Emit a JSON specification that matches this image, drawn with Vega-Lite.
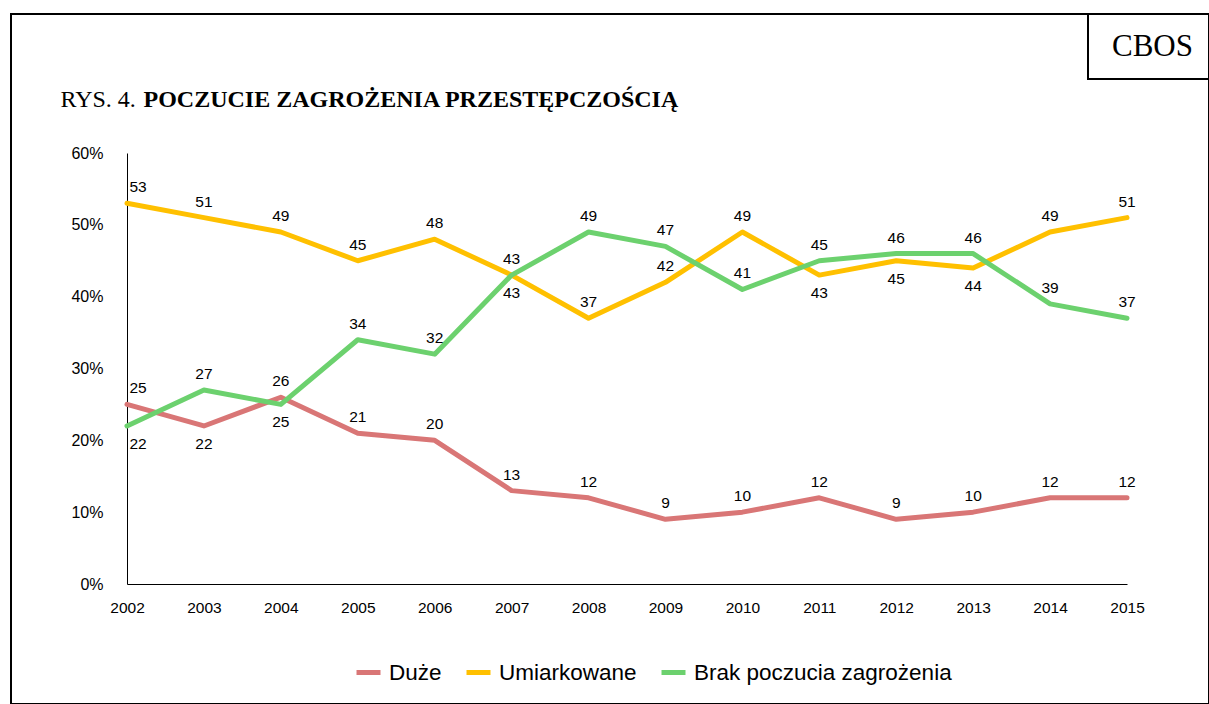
{
  "$schema": "https://vega.github.io/schema/vega-lite/v6.json",
  "autosize": "none",
  "width": 1198,
  "height": 690,
  "padding": {"left": 11, "top": 14, "right": 0, "bottom": 0},
  "background": "white",
  "config": {
    "view": {"stroke": "black", "strokeWidth": 2},
    "font": "Liberation Sans",
    "legend": {"strokeWidth": 2}
  },
  "datasets": {
    "main": [
      {"year": 2002, "series": "Duże", "value": 25},
      {"year": 2003, "series": "Duże", "value": 22},
      {"year": 2004, "series": "Duże", "value": 26},
      {"year": 2005, "series": "Duże", "value": 21},
      {"year": 2006, "series": "Duże", "value": 20},
      {"year": 2007, "series": "Duże", "value": 13},
      {"year": 2008, "series": "Duże", "value": 12},
      {"year": 2009, "series": "Duże", "value": 9},
      {"year": 2010, "series": "Duże", "value": 10},
      {"year": 2011, "series": "Duże", "value": 12},
      {"year": 2012, "series": "Duże", "value": 9},
      {"year": 2013, "series": "Duże", "value": 10},
      {"year": 2014, "series": "Duże", "value": 12},
      {"year": 2015, "series": "Duże", "value": 12},
      {"year": 2002, "series": "Umiarkowane", "value": 53},
      {"year": 2003, "series": "Umiarkowane", "value": 51},
      {"year": 2004, "series": "Umiarkowane", "value": 49},
      {"year": 2005, "series": "Umiarkowane", "value": 45},
      {"year": 2006, "series": "Umiarkowane", "value": 48},
      {"year": 2007, "series": "Umiarkowane", "value": 43},
      {"year": 2008, "series": "Umiarkowane", "value": 37},
      {"year": 2009, "series": "Umiarkowane", "value": 42},
      {"year": 2010, "series": "Umiarkowane", "value": 49},
      {"year": 2011, "series": "Umiarkowane", "value": 43},
      {"year": 2012, "series": "Umiarkowane", "value": 45},
      {"year": 2013, "series": "Umiarkowane", "value": 44},
      {"year": 2014, "series": "Umiarkowane", "value": 49},
      {"year": 2015, "series": "Umiarkowane", "value": 51},
      {"year": 2002, "series": "Brak poczucia zagrożenia", "value": 22},
      {"year": 2003, "series": "Brak poczucia zagrożenia", "value": 27},
      {"year": 2004, "series": "Brak poczucia zagrożenia", "value": 25},
      {"year": 2005, "series": "Brak poczucia zagrożenia", "value": 34},
      {"year": 2006, "series": "Brak poczucia zagrożenia", "value": 32},
      {"year": 2007, "series": "Brak poczucia zagrożenia", "value": 43},
      {"year": 2008, "series": "Brak poczucia zagrożenia", "value": 49},
      {"year": 2009, "series": "Brak poczucia zagrożenia", "value": 47},
      {"year": 2010, "series": "Brak poczucia zagrożenia", "value": 41},
      {"year": 2011, "series": "Brak poczucia zagrożenia", "value": 45},
      {"year": 2012, "series": "Brak poczucia zagrożenia", "value": 46},
      {"year": 2013, "series": "Brak poczucia zagrożenia", "value": 46},
      {"year": 2014, "series": "Brak poczucia zagrożenia", "value": 39},
      {"year": 2015, "series": "Brak poczucia zagrożenia", "value": 37}
    ],
    "brand": [{"brand": "CBOS"}]
  },
  "layer": [
    {
      "data": {"name": "main"},
      "mark": {"type": "line", "strokeWidth": 5, "strokeCap": "round", "strokeJoin": "round"},
      "encoding": {
        "x": {
          "field": "year", "type": "quantitative",
          "scale": {"domain": [2002, 2015], "range": [116, 1116], "nice": false, "zero": false},
          "axis": {
            "orient": "bottom", "offset": -120,
            "values": [2002, 2003, 2004, 2005, 2006, 2007, 2008, 2009, 2010, 2011, 2012, 2013, 2014, 2015],
            "format": "d", "grid": false, "ticks": false,
            "domainColor": "black", "domainWidth": 1,
            "labelFont": "Liberation Sans", "labelFontSize": 15.5, "labelColor": "black", "labelPadding": 16,
            "labelOverlap": false, "labelFlush": false, "labelBound": false,
            "title": "RYS. 4.",
            "titleX": 49, "titleY": -478, "titleAlign": "left",
            "titleBaseline": "alphabetic", "titleAngle": 0,
            "titleFont": "Liberation Serif", "titleFontSize": 24, "titleFontWeight": "normal", "titleColor": "black"
          }
        },
        "y": {
          "field": "value", "type": "quantitative",
          "scale": {"domain": [0, 60], "range": [570, 139], "nice": false},
          "axis": {
            "orient": "left", "offset": -116,
            "values": [0, 10, 20, 30, 40, 50, 60],
            "labelExpr": "datum.value + '%'",
            "grid": false, "ticks": false, "labelFlush": false,
            "domainColor": "black", "domainWidth": 1,
            "labelFont": "Liberation Sans", "labelFontSize": 16, "labelColor": "black", "labelPadding": 24,
            "title": "POCZUCIE ZAGROŻENIA PRZESTĘPCZOŚCIĄ",
            "titleX": 16, "titleY": 92, "titleAlign": "left",
            "titleBaseline": "alphabetic", "titleAngle": 0,
            "titleFont": "Liberation Serif", "titleFontSize": 24, "titleFontWeight": "bold", "titleColor": "black"
          }
        },
        "color": {
          "field": "series", "type": "nominal",
          "scale": {
            "domain": ["Duże", "Umiarkowane", "Brak poczucia zagrożenia"],
            "range": ["#D97676", "#FFC000", "#6CD16E"]
          },
          "legend": {
            "orient": "none", "legendX": 343, "legendY": 644,
            "direction": "horizontal", "title": null,
            "symbolType": "stroke", "symbolStrokeWidth": 5, "symbolSize": 576,
            "labelFont": "Liberation Sans", "labelFontSize": 22.5, "labelColor": "black",
            "labelOffset": 6, "columnPadding": 14, "padding": 0, "labelLimit": 500
          }
        }
      }
    },
    {
      "data": {"name": "main"},
      "mark": {
        "type": "text", "font": "Liberation Sans", "fontSize": 15.5, "color": "black", "baseline": "middle",
        "dx": {"expr": "datum.year == 2002 ? 11 : 0"},
        "dy": {"expr": "((datum.series == 'Duże' && datum.year == 2003) || (datum.series == 'Brak poczucia zagrożenia' && (datum.year == 2002 || datum.year == 2004 || datum.year == 2007)) || (datum.series == 'Umiarkowane' && datum.year >= 2011 && datum.year <= 2013)) ? 18 : -16"}
      },
      "encoding": {
        "x": {"field": "year", "type": "quantitative"},
        "y": {"field": "value", "type": "quantitative"},
        "text": {"field": "value", "type": "quantitative"}
      }
    },
    {
      "data": {"name": "brand"},
      "mark": {"type": "point", "opacity": 0},
      "encoding": {
        "shape": {
          "field": "brand", "type": "nominal",
          "legend": {
            "orient": "none", "legendX": 1077, "legendY": 0,
            "title": null,
            "strokeColor": "black", "padding": 17,
            "symbolSize": 0, "symbolOpacity": 0, "symbolStrokeWidth": 0,
            "labelFont": "Liberation Serif", "labelFontSize": 31, "labelColor": "black",
            "labelOffset": -24, "labelLimit": 300
          }
        }
      }
    }
  ]
}
